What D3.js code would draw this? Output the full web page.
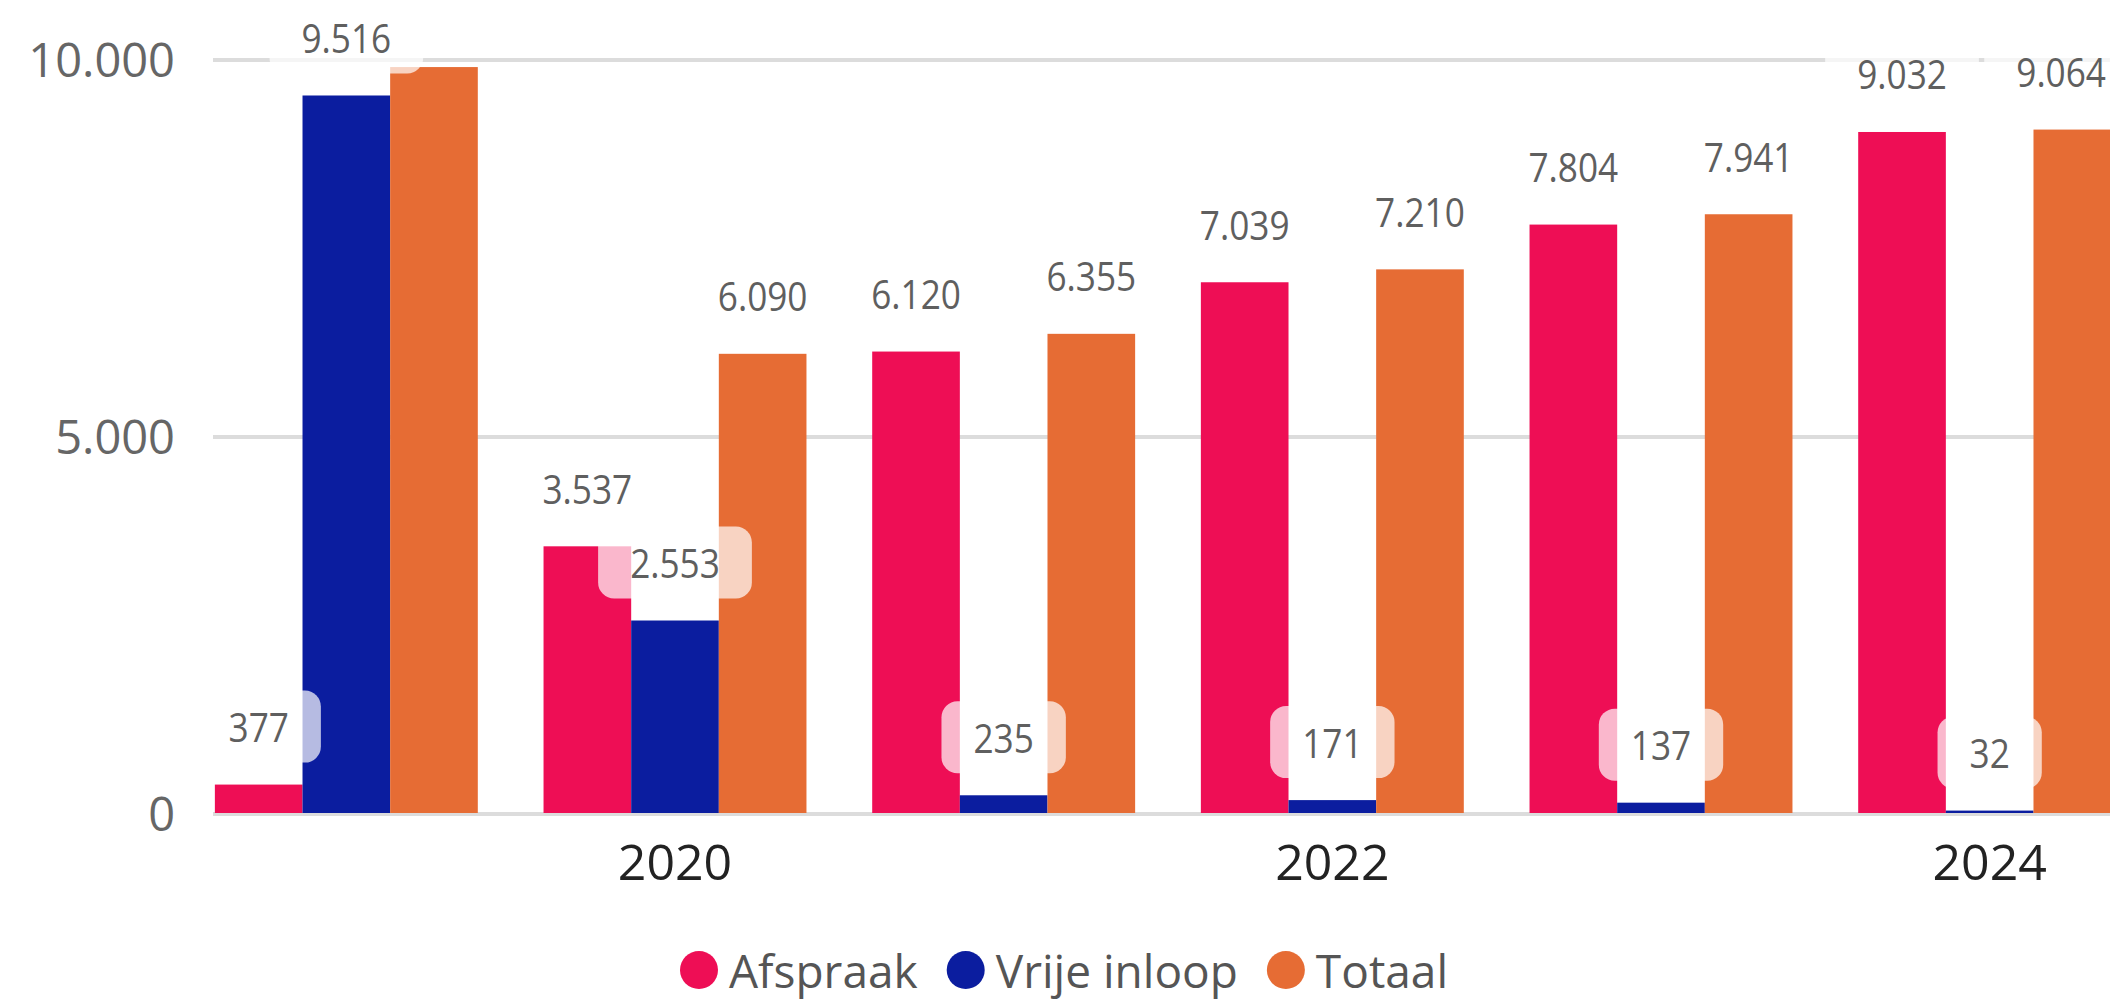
<!DOCTYPE html>
<html>
<head>
<meta charset="utf-8">
<script src="https://cdn.jsdelivr.net/npm/d3@7"></script>
<style>
  html, body { margin: 0; padding: 0; background: #fff; overflow: hidden; }
  svg { display: block; font-family: "Open Sans", "Segoe UI", sans-serif; }
</style>
</head>
<body>
<svg id="chart"></svg>
<script>
// data
const years = [2019, 2020, 2021, 2022, 2023, 2024];
const seriesNames = ["Afspraak", "Vrije inloop", "Totaal"];
const afspraak = [377, 3537, 6120, 7039, 7804, 9032];
const vrijeInloop = [9516, 2553, 235, 171, 137, 32];
const totaal = [9893, 6090, 6355, 7210, 7941, 9064];
const yTicks = [0, 5000, 10000];
const xTickYears = [2020, 2022, 2024];
const colors = ["#EE0E55", "#0B1D9F", "#E66C34"];

const W = 2110, H = 1003;
const plot = { left: 213, right: W, top: 59, bottom: 813 };

const nl = d3.formatLocale({ decimal: ",", thousands: ".", grouping: [3], currency: ["€", ""] });
const fmt = nl.format(",d");

const rows = years.map((yr, i) => ({ year: yr, values: [afspraak[i], vrijeInloop[i], totaal[i]] }));

const svg = d3.select("#chart").attr("width", W).attr("height", H);

// the visual is scrolled, so the band range runs past the right edge
const x0 = d3.scaleBand().domain(years).range([182, 2154]).paddingInner(0.2).paddingOuter(0.1);
const x1 = d3.scaleBand().domain(d3.range(seriesNames.length)).range([0, x0.bandwidth()]);
const y = d3.scaleLinear().domain([0, 10000]).range([plot.bottom, plot.top]);

svg.append("clipPath").attr("id", "clip")
  .append("rect")
  .attr("x", plot.left).attr("y", 0)
  .attr("width", plot.right - plot.left).attr("height", H);

// gridlines
svg.append("g")
  .selectAll("line")
  .data(yTicks)
  .join("line")
  .attr("x1", plot.left).attr("x2", plot.right)
  .attr("y1", d => y(d) + 1).attr("y2", d => y(d) + 1)
  .attr("stroke", "#dcdcdc")
  .attr("stroke-width", 4);

// y axis labels
svg.append("g")
  .selectAll("text")
  .data(yTicks)
  .join("text")
  .attr("x", 175)
  .attr("y", d => y(d))
  .attr("text-anchor", "end")
  .attr("dominant-baseline", "central")
  .attr("font-size", 47)
  .attr("fill", "#666")
  .text(d => fmt(d));

// bars
const barsG = svg.append("g").attr("clip-path", "url(#clip)");
const groups = barsG.selectAll("g.year")
  .data(rows)
  .join("g")
  .attr("class", "year")
  .attr("transform", d => `translate(${x0(d.year)},0)`);

groups.selectAll("rect")
  .data(d => d.values.map((v, k) => ({ k, v })))
  .join("rect")
  .attr("x", d => x1(d.k))
  .attr("width", x1.bandwidth())
  .attr("y", d => y(d.v))
  .attr("height", d => y(0) - y(d.v))
  .attr("fill", d => colors[d.k]);

// x axis labels (only every other year is shown)
svg.append("g")
  .selectAll("text")
  .data(xTickYears)
  .join("text")
  .attr("x", d => x0(d) + x0.bandwidth() / 2)
  .attr("y", 861)
  .attr("text-anchor", "middle")
  .attr("dominant-baseline", "central")
  .attr("font-size", 50)
  .attr("fill", "#222")
  .text(d => d);

// data labels with rounded, see-through white boxes; hide ones that collide
const labelG = svg.append("g").attr("clip-path", "url(#clip)");
const placed = [];
const squeeze = 0.88;
const boxH = 72, padX = 32;

rows.forEach(r => {
  r.values.forEach((v, k) => {
    const g = labelG.append("g");
    const t = g.append("text")
      .attr("text-anchor", "middle")
      .attr("dominant-baseline", "central")
      .attr("font-size", 40)
      .attr("fill", "#5f5f5f")
      .text(fmt(v));
    const tw = t.node().getComputedTextLength() * squeeze;
    let cx = x0(r.year) + x1(k) + x1.bandwidth() / 2;
    cx = Math.min(cx, W - 4 - tw / 2);
    const cy = y(v) - 58;
    const box = { x0: cx - tw / 2 - padX, x1: cx + tw / 2 + padX, y0: cy - boxH / 2, y1: cy + boxH / 2 };
    const hit = placed.some(b => box.x0 < b.x1 - 6 && box.x1 > b.x0 + 6 && box.y0 < b.y1 - 6 && box.y1 > b.y0 + 6);
    if (hit) { g.remove(); return; }
    placed.push(box);
    g.insert("rect", "text")
      .attr("x", box.x0).attr("y", box.y0)
      .attr("width", box.x1 - box.x0).attr("height", boxH)
      .attr("rx", 16)
      .attr("fill", "#fff")
      .attr("fill-opacity", 0.7);
    t.attr("transform", `translate(${cx},${cy}) scale(${squeeze},1)`);
  });
});

// legend
const legend = svg.append("g");
let lx = 0;
seriesNames.forEach((name, k) => {
  const item = legend.append("g").attr("transform", `translate(${lx},0)`);
  item.append("circle").attr("cx", 19).attr("cy", 0).attr("r", 19).attr("fill", colors[k]);
  const t = item.append("text")
    .attr("x", 49)
    .attr("dominant-baseline", "central")
    .attr("font-size", 46)
    .attr("fill", "#555")
    .text(name);
  lx += 49 + t.node().getComputedTextLength() + 29;
});
lx -= 29;
legend.attr("transform", `translate(${W / 2 + 9 - lx / 2},970)`);
</script>
</body>
</html>
